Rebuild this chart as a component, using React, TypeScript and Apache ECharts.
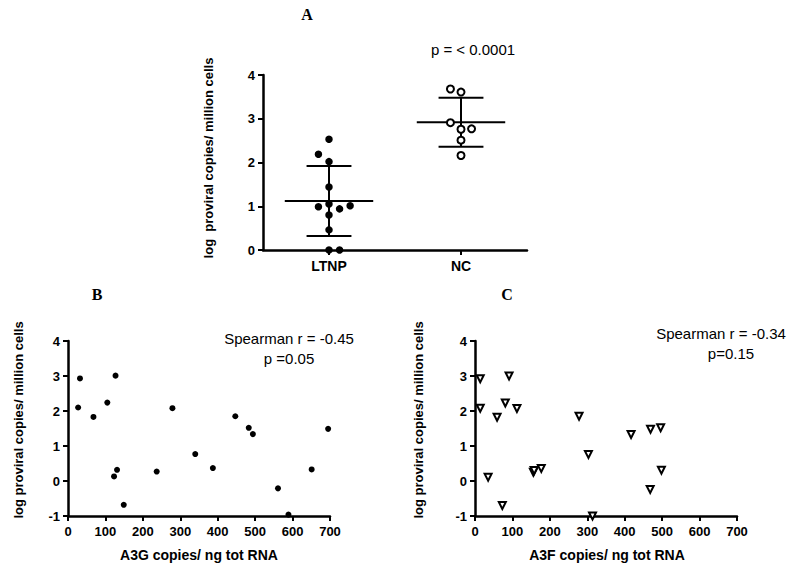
import React, { useEffect, useRef } from "react";
import * as echarts from "echarts";

// Panel A
const groupNames = ["LTNP", "NC"];
const groupPositions = [0, 1];
const ltnpValues = [2.53, 2.19, 2.02, 1.44, 0.99, 1.05, 0.94, 1.01, 0.8, 0.46, 0, 0];
const ltnpJitter = [0, -0.08, 0, 0, -0.08, 0, 0.08, 0.16, 0, 0, 0, 0.08];
const ncValues = [3.68, 3.61, 2.91, 2.76, 2.77, 2.51, 2.16];
const ncJitter = [-0.08, 0, -0.08, 0, 0.08, 0, 0];
const groupMeans = [1.12, 2.92];
const groupSds = [0.8, 0.56];

// Panel B (A3G)
const a3gX = [32, 27, 68, 105, 127, 123, 131, 149, 237, 279, 340, 387, 447, 483, 494, 561, 589, 651, 695];
const a3gY = [2.93, 2.1, 1.83, 2.24, 3.01, 0.13, 0.32, -0.68, 0.27, 2.08, 0.77, 0.37, 1.85, 1.52, 1.34, -0.21, -0.96, 0.33, 1.49];

// Panel C (A3F)
const a3fX = [14, 14, 59, 81, 91, 112, 35, 73, 156, 158, 177, 278, 303, 314, 417, 469, 496, 498, 468];
const a3fY = [2.92, 2.08, 1.82, 2.23, 3.0, 2.07, 0.11, -0.7, 0.25, 0.3, 0.36, 1.85, 0.76, -1.0, 1.33, 1.48, 1.52, 0.31, -0.24];

const yTicksA = [0, 1, 2, 3, 4];
const yTicksBC = [-1, 0, 1, 2, 3, 4];
const xTicksBC = [0, 100, 200, 300, 400, 500, 600, 700];

const SANS = "Liberation Sans";
const SERIF = "Liberation Serif";

function axisCommon() {
  return {
    axisLine: { show: true, onZero: false, lineStyle: { color: "#000", width: 2.5 } },
    axisTick: { show: true, length: 5, lineStyle: { color: "#000", width: 2 } },
    splitLine: { show: false },
    axisLabel: { color: "#000", fontWeight: "bold" as const, fontSize: 13, fontFamily: SANS },
  };
}

function txt(x: number, y: number, text: string, family: string, size: number, weight: string, rotate = false) {
  const el: any = {
    type: "text",
    x,
    y,
    style: { text, fontFamily: family, fontSize: size, fontWeight: weight, fill: "#000", align: "center", verticalAlign: "middle" },
  };
  if (rotate) el.rotation = Math.PI / 2;
  return el;
}

export default function App() {
  const ref = useRef<HTMLDivElement>(null);
  useEffect(() => {
    if (!ref.current) return;
    const chart = echarts.init(ref.current, undefined, { renderer: "svg" });
    const c = axisCommon();
    const option: any = {
      animation: false,
      backgroundColor: "#fff",
      grid: [
        { left: 263, top: 75, width: 264, height: 175 },
        { left: 68, top: 341, width: 262, height: 175 },
        { left: 475, top: 341, width: 262, height: 175 },
      ],
      xAxis: [
        {
          ...c,
          type: "category",
          gridIndex: 0,
          data: groupNames,
          boundaryGap: true,
          axisTick: { ...c.axisTick, alignWithLabel: true },
          axisLabel: { ...c.axisLabel, fontSize: 14, margin: 9 },
        },
        { type: "value", gridIndex: 0, min: -0.5, max: 1.5, show: false },
        { ...c, type: "value", gridIndex: 1, min: 0, max: 700, interval: 100, axisLabel: { ...c.axisLabel, margin: 9, customValues: xTicksBC } },
        { ...c, type: "value", gridIndex: 2, min: 0, max: 700, interval: 100, axisLabel: { ...c.axisLabel, margin: 9, customValues: xTicksBC } },
      ],
      yAxis: [
        { ...c, type: "value", gridIndex: 0, min: 0, max: 4, interval: 1, axisLabel: { ...c.axisLabel, margin: 8, customValues: yTicksA } },
        { ...c, type: "value", gridIndex: 1, min: -1, max: 4, interval: 1, axisLabel: { ...c.axisLabel, margin: 8, customValues: yTicksBC } },
        { ...c, type: "value", gridIndex: 2, min: -1, max: 4, interval: 1, axisLabel: { ...c.axisLabel, margin: 8, customValues: yTicksBC } },
      ],
      series: [
        {
          type: "custom",
          xAxisIndex: 1,
          yAxisIndex: 0,
          clip: false,
          silent: true,
          data: groupMeans.map((m, i) => [groupPositions[i], m, groupSds[i]]),
          renderItem: (params: any, api: any) => {
            const ci = api.value(0);
            const m = api.value(1);
            const s = api.value(2);
            const pm = api.coord([ci, m]);
            const ph = api.coord([ci, m + s]);
            const pl = api.coord([ci, m - s]);
            const unit = api.size([1, 0])[0];
            const wm = unit * 0.335;
            const ws = unit * 0.17;
            const st = { stroke: "#000", lineWidth: 2 };
            return {
              type: "group",
              children: [
                { type: "line", shape: { x1: pm[0] - wm, y1: pm[1], x2: pm[0] + wm, y2: pm[1] }, style: st },
                { type: "line", shape: { x1: ph[0] - ws, y1: ph[1], x2: ph[0] + ws, y2: ph[1] }, style: st },
                { type: "line", shape: { x1: pl[0] - ws, y1: pl[1], x2: pl[0] + ws, y2: pl[1] }, style: st },
                { type: "line", shape: { x1: ph[0], y1: ph[1], x2: pl[0], y2: pl[1] }, style: st },
              ],
            };
          },
        },
        {
          type: "scatter",
          xAxisIndex: 1,
          yAxisIndex: 0,
          clip: false,
          symbolSize: 7.5,
          itemStyle: { color: "#000", opacity: 1 },
          data: ltnpValues.map((v, i) => [groupPositions[0] + ltnpJitter[i], v]),
        },
        {
          type: "scatter",
          xAxisIndex: 1,
          yAxisIndex: 0,
          clip: false,
          symbol: "emptyCircle",
          symbolSize: 7,
          itemStyle: { color: "#000", borderColor: "#000", borderWidth: 1.6, opacity: 1 },
          data: ncValues.map((v, i) => [groupPositions[1] + ncJitter[i], v]),
        },
        {
          type: "scatter",
          xAxisIndex: 2,
          yAxisIndex: 1,
          clip: false,
          symbolSize: 6,
          itemStyle: { color: "#000", opacity: 1 },
          data: a3gX.map((x, i) => [x, a3gY[i]]),
        },
        {
          type: "scatter",
          xAxisIndex: 3,
          yAxisIndex: 2,
          clip: false,
          symbol: "emptyTriangle",
          symbolRotate: 180,
          symbolSize: 7,
          itemStyle: { color: "#000", borderColor: "#000", borderWidth: 1.6, opacity: 1 },
          data: a3fX.map((x, i) => [x, a3fY[i]]),
        },
      ],
      graphic: [
        txt(307, 14, "A", SERIF, 16, "bold"),
        txt(97, 294, "B", SERIF, 16, "bold"),
        txt(507, 294, "C", SERIF, 16, "bold"),
        txt(473, 49, "p = < 0.0001", SANS, 15, "normal"),
        txt(289, 338, "Spearman r = -0.45", SANS, 15, "normal"),
        txt(289, 358, "p =0.05", SANS, 15, "normal"),
        txt(721, 333, "Spearman r = -0.34", SANS, 15, "normal"),
        txt(731, 353, "p=0.15", SANS, 15, "normal"),
        txt(208, 158, "log  proviral copies/ million cells", SANS, 13, "bold", true),
        txt(18, 420, "log proviral copies/ million cells", SANS, 13, "bold", true),
        txt(418, 420, "log proviral copies/ million cells", SANS, 13, "bold", true),
        txt(199, 555, "A3G copies/ ng tot RNA", SANS, 14, "bold"),
        txt(607, 555, "A3F copies/ ng tot RNA", SANS, 14, "bold"),
      ],
    };
    chart.setOption(option);
    return () => chart.dispose();
  }, []);
  return <div ref={ref} style={{ position: "fixed", left: 0, top: 0, width: 800, height: 572 }} />;
}
